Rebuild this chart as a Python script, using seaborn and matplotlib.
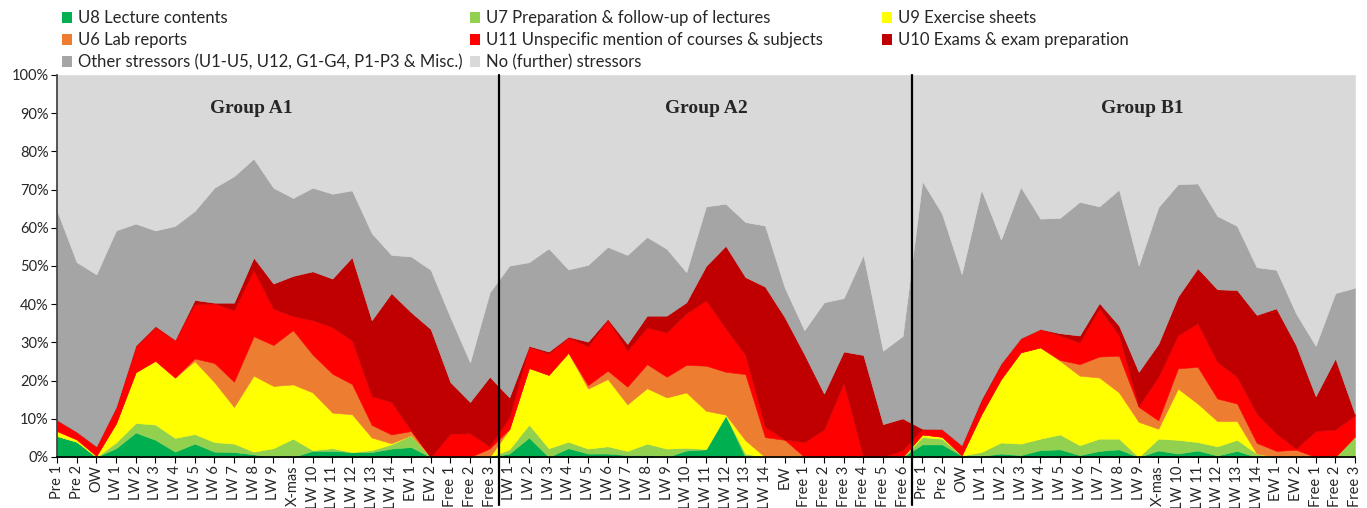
import numpy as np
import pandas as pd
import matplotlib
matplotlib.use("Agg")
import matplotlib.pyplot as plt
import seaborn as sns
from matplotlib.patches import Patch
from matplotlib.ticker import PercentFormatter

# ==========================================
# 1. DATA (share of mentions in %)
# ==========================================
weeks_a1 = ["Pre 1", "Pre 2", "OW", "LW 1", "LW 2", "LW 3", "LW 4", "LW 5", "LW 6", "LW 7",
            "LW 8", "LW 9", "X-mas", "LW 10", "LW 11", "LW 12", "LW 13", "LW 14",
            "EW 1", "EW 2", "Free 1", "Free 2", "Free 3"]
weeks_a2 = ["LW 1", "LW 2", "LW 3", "LW 4", "LW 5", "LW 6", "LW 7", "LW 8", "LW 9", "LW 10",
            "LW 11", "LW 12", "LW 13", "LW 14", "EW", "Free 1", "Free 2", "Free 3",
            "Free 4", "Free 5", "Free 6"]
weeks_b1 = ["Pre 1", "Pre 2", "OW", "LW 1", "LW 2", "LW 3", "LW 4", "LW 5", "LW 6", "LW 7",
            "LW 8", "LW 9", "X-mas", "LW 10", "LW 11", "LW 12", "LW 13", "LW 14",
            "EW 1", "EW 2", "Free 1", "Free 2", "Free 3"]
groups = ["Group A1", "Group A2", "Group B1"]

u8 = [5.5, 4.0, 0.0, 2.3, 6.4, 4.5, 1.4, 3.5, 1.4, 1.3, 0.7, 0.0, 0.0, 1.6, 1.6, 1.3, 1.3, 2.2, 2.6, 0, 0, 0, 0,
      0.9, 5.1, 0.0, 2.3, 0.9, 0.9, 0.5, 0.5, 0.0, 1.7, 2.0, 10.9, 0, 0, 0, 0, 0, 0, 0, 0, 0,
      3.3, 3.3, 0.4, 0.3, 0.9, 0.5, 1.8, 2.0, 0.5, 1.6, 2.0, 0.0, 1.7, 0.9, 1.7, 0.4, 1.6, 0, 0, 0, 0, 0, 0]
u7 = [0, 0, 0, 1.5, 2.5, 4.0, 3.6, 2.5, 2.5, 2.2, 0.7, 2.3, 4.8, 0.2, 0.7, 0, 0.5, 1.1, 3.1, 0, 0, 0, 0,
      1.1, 3.4, 2.3, 1.7, 1.3, 1.9, 1.1, 3.0, 2.2, 0.7, 0.1, 0, 0.9, 0, 0, 0, 0, 0, 0, 0, 0,
      1.9, 1.5, 0, 1.0, 2.9, 3.0, 3.0, 3.9, 2.6, 3.2, 2.8, 0, 3.1, 3.6, 2.2, 2.4, 2.9, 0.9, 0, 0, 0, 0, 5.4]
u9 = [1.3, 0.6, 0.3, 5.0, 13.3, 16.7, 15.8, 19.1, 15.7, 9.6, 19.9, 16.3, 14.2, 15.1, 9.3, 9.9, 3.3, 0.3, 0, 0, 0, 0, 0,
      5.3, 14.8, 19.2, 23.3, 15.7, 17.6, 12.2, 14.5, 13.4, 14.5, 10.0, 0.2, 3.5, 0, 0, 0, 0, 0, 0, 0, 0,
      0.7, 0.5, 0, 9.9, 16.6, 23.9, 23.9, 19.3, 18.2, 16.0, 12.1, 9.2, 2.6, 13.4, 10.1, 6.6, 4.9, 0, 0, 0, 0, 0, 0]
u6 = [0, 0, 0, 0, 0, 0, 0, 0.7, 5.0, 6.6, 10.3, 10.7, 14.2, 9.9, 10.2, 7.9, 3.3, 2.3, 1.1, 0, 0, 0, 2.2,
      0, 0, 0, 0, 0.9, 2.2, 4.6, 6.3, 5.4, 7.2, 11.8, 11.2, 17.3, 5.2, 4.5, 0, 0, 0, 0, 0, 0,
      0, 0, 0, 0, 0, 0, 0, 0.2, 3.0, 5.5, 9.6, 3.9, 2.2, 5.3, 9.6, 5.9, 4.6, 2.8, 1.6, 1.9, 0, 0, 0]
u11 = [2.9, 2.0, 2.5, 4.3, 6.7, 8.8, 9.9, 14.2, 15.6, 18.7, 17.3, 9.5, 3.7, 9.0, 12.2, 11.4, 7.6, 8.5, 0.2, 0, 6.1, 6.2, 0.6,
       3.0, 5.6, 5.6, 4.0, 10.2, 13.3, 9.4, 9.6, 11.6, 13.5, 17.1, 11.4, 5.0, 2.7, 0.1, 3.9, 7.2, 19.4, 0, 0, 1.8,
       1.5, 2.0, 2.7, 3.5, 3.9, 3.7, 4.8, 6.4, 5.7, 12.7, 5.3, 0.2, 11.4, 8.7, 11.4, 9.6, 7.0, 7.7, 4.5, 0.3, 6.8, 7.2, 5.5]
u10 = [0, 0, 0, 0, 0.3, 0.3, 0, 1.1, 0.2, 2.0, 3.3, 6.6, 10.5, 12.8, 12.7, 21.8, 19.8, 28.5, 30.9, 33.5, 13.5, 8.2, 18.2,
       5.3, 0.2, 0.5, 0.2, 1.2, 0.3, 1.8, 3.1, 4.4, 2.9, 9.0, 21.6, 20.4, 36.7, 32.0, 23.0, 9.4, 8.2, 26.7, 8.6, 8.3,
       0, 0, 0, 0.4, 0.2, 0, 0, 0.6, 1.8, 1.3, 2.6, 9.0, 8.6, 10.1, 14.4, 19.0, 22.7, 25.8, 32.8, 27.1, 9.1, 18.6, 0.3]
other = [54.8, 44.4, 45.0, 46.2, 31.9, 25.0, 29.8, 23.3, 30.1, 33.1, 25.9, 25.1, 20.4, 21.9, 22.2, 17.5, 22.8, 10.0, 14.6, 15.5, 17.0, 10.4, 22.1,
         34.5, 21.9, 27.0, 17.6, 20.1, 18.8, 23.3, 20.6, 17.5, 7.9, 15.6, 11.0, 14.4, 16.0, 7.8, 6.3, 23.9, 14.0, 26.2, 19.2, 21.6,
         64.8, 56.4, 44.8, 54.9, 32.4, 39.6, 28.9, 30.2, 35.0, 25.3, 35.6, 27.8, 35.8, 29.4, 22.2, 19.2, 16.8, 12.5, 10.1, 8.3, 13.2, 17.1, 33.1]
none = [35.5, 49.0, 52.2, 40.7, 38.9, 40.7, 39.5, 35.6, 29.5, 26.5, 21.9, 29.5, 32.2, 29.5, 31.1, 30.2, 41.4, 47.1, 47.5, 51.0, 63.4, 75.2, 56.9,
        49.9, 49.0, 45.4, 50.9, 49.7, 45.0, 47.1, 42.4, 45.5, 51.6, 34.4, 33.7, 38.5, 39.4, 55.6, 66.8, 59.5, 58.4, 47.1, 72.2, 68.3,
        27.8, 36.3, 52.1, 30.0, 43.1, 29.3, 37.6, 37.4, 33.2, 34.4, 30.0, 49.9, 34.6, 28.6, 28.4, 36.9, 39.5, 50.3, 51.0, 62.4, 70.9, 57.1, 55.7]

labels = ["U8 Lecture contents", "U7 Preparation & follow-up of lectures", "U9 Exercise sheets",
          "U6 Lab reports", "U11 Unspecific mention of courses & subjects", "U10 Exams & exam preparation",
          "Other stressors (U1-U5, U12, G1-G4, P1-P3 & Misc.)", "No (further) stressors"]
colors = ["#00B050", "#92D050", "#FFFF00", "#ED7D31", "#FF0000", "#C00000", "#A5A5A5", "#D9D9D9"]

weeks = weeks_a1 + weeks_a2 + weeks_b1
df = pd.DataFrame(dict(zip(labels, [u8, u7, u9, u6, u11, u10, other, none])))
df["week"] = weeks

# ==========================================
# 2. PLOT
# ==========================================
sns.set_theme(style="ticks")
plt.rcParams['font.family'] = ['Lato', 'DejaVu Sans']

fig, ax = plt.subplots(figsize=(13.67, 5.08), dpi=100)
fig.subplots_adjust(left=0.0417, right=0.9912, bottom=0.1004, top=0.8524)

x = np.arange(len(weeks))
polys = ax.stackplot(x, [df[c] for c in labels], colors=colors, linewidth=0.4)
for p, c in zip(polys, colors):
    p.set_edgecolor(c)

ax.set_xlim(0, len(weeks) - 1)
ax.set_ylim(0, 100)
ax.set_yticks(range(0, 101, 10))
ax.yaxis.set_major_formatter(PercentFormatter(xmax=100, decimals=0))
ax.set_xticks(x)
ax.set_xticklabels(weeks, rotation=90)
ax.tick_params(axis="both", labelsize=10.5, length=4, width=0.8, color="black", pad=2)
sns.despine(ax=ax)
ax.spines["left"].set_color("#404040")
ax.spines["bottom"].set_color("black")

# group separators and titles
n1, n2 = len(weeks_a1), len(weeks_a2)
for xv in [n1 - 0.5, n1 + n2 - 0.5]:
    ax.plot([xv, xv], [-12.5, 100], color="black", lw=1.6, clip_on=False, zorder=5)
for gx, name in zip([9.9, 33.0, 55.2], groups):
    ax.text(gx, 91.3, name, ha="center", va="center", fontsize=14, fontweight="bold",
            family="Liberation Serif")

# legend: row-major like the original, built as three columns
handles = [Patch(facecolor=c, edgecolor="none") for c in colors]
col_idx = [[0, 3, 6], [1, 4, 7], [2, 5]]
col_x = [0.0454, 0.3438, 0.6452]
for idx, cx in zip(col_idx, col_x):
    fig.legend([handles[i] for i in idx], [labels[i] for i in idx], loc="upper left",
               bbox_to_anchor=(cx, 0.980), frameon=False, fontsize=12, borderpad=0,
               borderaxespad=0, handlelength=0.6, handleheight=0.6, handletextpad=0.36,
               labelspacing=0.36)

plt.savefig("out.png", dpi=100)
plt.close()
